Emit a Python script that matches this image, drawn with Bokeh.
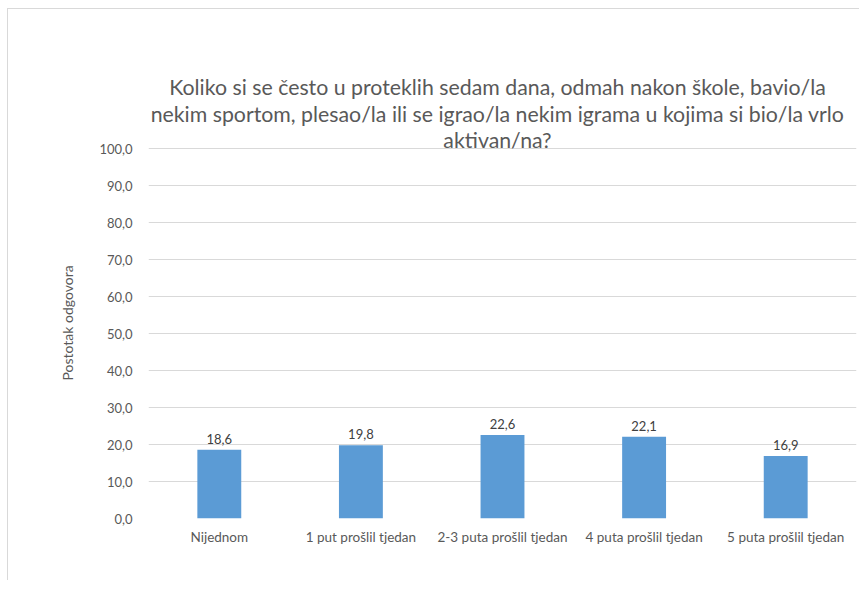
from bokeh.plotting import figure
from bokeh.models import ColumnDataSource, Range1d, FixedTicker, CustomJSTickFormatter, LabelSet, Title
from bokeh.core.properties import value
from bokeh.embed import file_html
from bokeh.resources import INLINE

categories = ["Nijednom", "1 put prošlil tjedan", "2-3 puta prošlil tjedan",
              "4 puta prošlil tjedan", "5 puta prošlil tjedan"]
values = [18.6, 19.8, 22.6, 22.1, 16.9]
y_ticks = [0, 10, 20, 30, 40, 50, 60, 70, 80, 90, 100]
title_lines = ["Koliko si se često u proteklih sedam dana, odmah nakon škole, bavio/la",
               "nekim sportom, plesao/la ili se igrao/la nekim igrama u kojima si bio/la vrlo",
               "aktivan/na?"]
y_label = "Postotak odgovora"

labels = [f"{v:.1f}".replace(".", ",") for v in values]
src = ColumnDataSource(dict(cat=categories, val=values, lab=labels))

FONT = "Lato"
p = figure(x_range=categories, y_range=Range1d(0, 120), width=852, height=572,
           output_backend="svg", toolbar_location=None,
           min_border_left=140, min_border_right=4, min_border_bottom=63, min_border_top=65)
p.styles = {"margin-left": "7px", "margin-top": "8px",
            "border-left": "1px solid #d9d9d9", "border-top": "1px solid #d9d9d9"}
p.outline_line_color = None
p.background_fill_color = "white"
p.border_fill_color = "white"

p.vbar(x="cat", top="val", width=0.31, source=src, color="#5B9BD5", line_color=None)

p.add_layout(LabelSet(x="cat", y="val", text="lab", source=src, y_offset=6,
                      text_align="center", text_baseline="bottom",
                      text_font=value(FONT), text_font_size="13px", text_color="#404040"))

# chart title, three centred lines (overlapping the top gridline as in the original)
title_src = ColumnDataSource(dict(x=[categories[2]] * 3, y=[116.6, 109.3, 102.2], t=title_lines))
p.text(x="x", y="y", text="t", source=title_src, x_offset=-5,
       text_align="center", text_baseline="alphabetic",
       text_font=value(FONT), text_font_size="21.3px", text_color="#595959")

# y-axis title as a side title
ytitle = Title(text=y_label, align="left", offset=138, standoff=42,
               text_font=FONT, text_font_size="14px", text_font_style="normal",
               text_color="#595959")
p.add_layout(ytitle, "left")

p.yaxis.ticker = FixedTicker(ticks=y_ticks)
p.yaxis.formatter = CustomJSTickFormatter(code="return tick.toFixed(1).replace('.', ',');")
p.yaxis.axis_line_color = None
p.yaxis.major_tick_line_color = None
p.yaxis.minor_tick_line_color = None
p.yaxis.major_label_text_font = FONT
p.yaxis.major_label_text_font_size = "13px"
p.yaxis.major_label_text_color = "#595959"
p.yaxis.major_label_standoff = 10

p.xaxis.axis_line_color = None
p.xaxis.major_tick_line_color = None
p.xaxis.minor_tick_line_color = None
p.xaxis.major_label_text_font = FONT
p.xaxis.major_label_text_font_size = "13.5px"
p.xaxis.major_label_text_color = "#595959"
p.xaxis.major_label_standoff = 4

p.xgrid.grid_line_color = None
p.ygrid.grid_line_color = "#d9d9d9"
p.ygrid.grid_line_width = 1

open("out.html", "w").write(file_html(p, INLINE))
